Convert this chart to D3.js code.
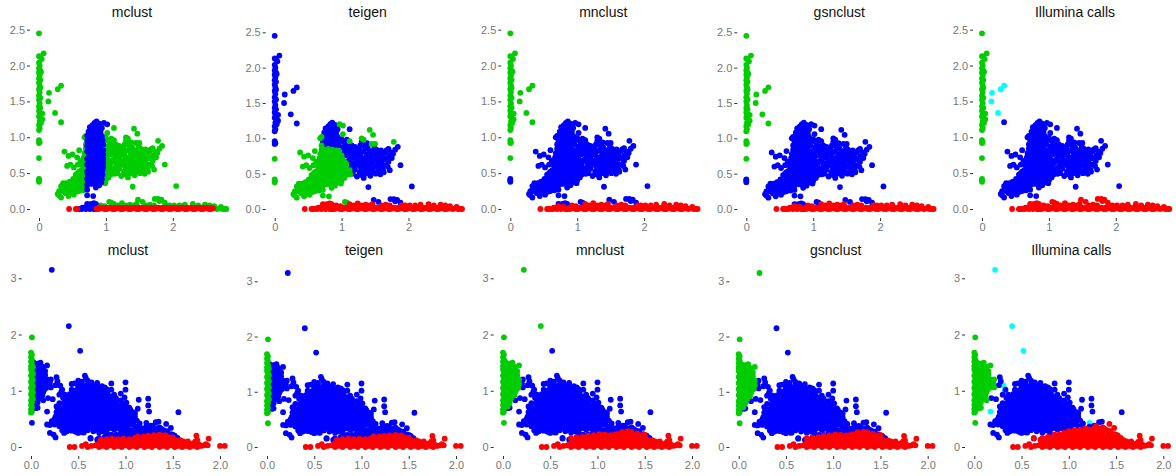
<!DOCTYPE html>
<html lang="en">
<head>
<meta charset="UTF-8">
<title>Clustering comparison</title>
<style>
    html, body { margin: 0; padding: 0; background: #fff; }
    svg { display: block; }
    text { font-family: "Liberation Sans", Arial, sans-serif; }
</style>
</head>
<body>
<svg id="chart" width="1176" height="476"></svg>
<script src="https://d3js.org/d3.v7.min.js"></script>
<script>
const methods = ["mclust", "teigen", "mnclust", "gsnclust", "Illumina calls"];
const topXTicks = [0, 1, 2];
const topYTicks = [0, 0.5, 1, 1.5, 2, 2.5];
const bottomXTicks = [0, 0.5, 1, 1.5, 2];
const bottomYTicks = [0, 1, 2, 3];

// ---- top row points, split by how the methods disagree on them
const topStripMain = [[0,2.45],[0,2.13],[0.02,2.12],[0.07,2.17],[0.04,2.09],[0,2.04],[0.01,2],[0,1.96],[0.02,1.93],[0.03,1.91],[0,1.9],[0.01,1.86],[0,1.82],[0.02,1.8],[0,1.76],[0.01,1.72],[0.02,1.69],[0,1.67],[0.01,1.63],[0,1.58],[0.02,1.55],[0,1.52],[0.01,1.47],[0,1.43],[0.02,1.41],[0,1.37],[0.01,1.33],[0.05,1.33],[0,1.29],[0.03,1.26],[0.05,1.25],[0.01,1.22],[0.03,1.2],[0,1.17],[0.01,1.13],[0,1.1],[0,0.96],[0.01,0.93],[0,0.92]];
const topStripMid = [[0,0.71]];
const topStripLow = [[0,0.42],[0,0.4],[0,0.38]];
const topSide = [[0.15,1.62],[0.14,1.5],[0.24,1.34],[0.28,1.67],[0.33,1.72]];
const topSideLast = [[0.33,1.21]];
const topLimb = [[0.28,0.21],[0.3,0.19],[0.33,0.16],[0.33,0.32],[0.38,0.33],[0.36,0.26],[0.4,0.22],[0.42,0.27],[0.41,0.36],[0.44,0.18],[0.46,0.23],[0.47,0.3],[0.46,0.38],[0.49,0.34],[0.5,0.27],[0.52,0.2],[0.53,0.31],[0.51,0.42],[0.55,0.38],[0.56,0.24],[0.58,0.3],[0.57,0.44],[0.6,0.36],[0.6,0.47],[0.62,0.27],[0.63,0.41],[0.65,0.5],[0.64,0.33],[0.66,0.44],[0.67,0.37],[0.69,0.3],[0.68,0.55],[0.7,0.47],[0.63,0.54],[0.7,0.6],[0.66,0.6],[0.69,0.66],[0.67,0.72],[0.7,0.76],[0.7,0.84],[0.7,0.9],[0.7,1.02],[0.68,1.0],[0.38,0.8],[0.44,0.74],[0.5,0.76],[0.42,0.6],[0.47,0.62],[0.52,0.58],[0.6,0.82],[0.57,0.72],[0.62,0.67],[0.58,0.62],
[0.35,0.29],[0.38,0.24],[0.43,0.32],[0.44,0.24],[0.48,0.22],[0.5,0.32],[0.53,0.26],[0.54,0.36],[0.58,0.4],[0.6,0.33],[0.6,0.25],[0.63,0.36],[0.65,0.28],[0.66,0.34],[0.68,0.4],[0.7,0.36],[0.7,0.42],[0.65,0.54],[0.6,0.52],[0.62,0.46],[0.55,0.48],[0.58,0.5],[0.66,0.66],[0.68,0.78],[0.68,0.6],[0.64,0.62],[0.66,0.26],[0.4,0.3],[0.36,0.36],[0.32,0.25],[0.3,0.25]];
const topCoreLow = [[0.74,0.84],[0.8,0.85],[0.86,0.84],[0.92,0.83],[0.96,0.82],[0.75,0.78],[0.81,0.77],[0.87,0.79],[0.92,0.77],[0.96,0.76],[0.74,0.72],[0.8,0.71],[0.86,0.72],[0.91,0.71],[0.96,0.7],[0.75,0.66],[0.8,0.65],[0.86,0.66],[0.92,0.64],[0.96,0.65],[0.74,0.6],[0.8,0.6],[0.85,0.59],[0.9,0.6],[0.96,0.59],[0.74,0.54],[0.79,0.53],[0.85,0.54],[0.91,0.53],[0.95,0.54],[0.73,0.48],[0.78,0.47],[0.84,0.48],[0.9,0.47],[0.95,0.48],[0.72,0.42],[0.77,0.41],[0.82,0.43],[0.9,0.41],[0.94,0.42],[0.73,0.36],[0.78,0.35],[0.85,0.3],[0.72,0.27],[0.72,0.19],[0.81,0.18],
[0.77,0.81],[0.83,0.81],[0.89,0.81],[0.94,0.8],[0.77,0.75],[0.83,0.74],[0.89,0.74],[0.94,0.74],[0.77,0.69],[0.83,0.68],[0.89,0.69],[0.94,0.67],[0.77,0.63],[0.83,0.63],[0.88,0.62],[0.93,0.62],[0.77,0.57],[0.83,0.56],[0.88,0.56],[0.93,0.56],[0.76,0.51],[0.82,0.5],[0.87,0.51],[0.93,0.5],[0.75,0.45],[0.8,0.44],[0.87,0.44],[0.92,0.44],[0.76,0.39],[0.82,0.38],[0.88,0.37],[0.93,0.37],[0.84,0.34],[0.9,0.33],[0.72,0.52],[0.72,0.62],[0.72,0.7],[0.72,0.8],[0.72,0.33]];
const topCoreHigh = [[0.74,0.9],[0.8,0.91],[0.86,0.9],[0.92,0.89],[0.96,0.9],[0.73,0.96],[0.79,0.97],[0.85,0.96],[0.91,0.95],[0.95,0.96],[0.72,1.02],[0.78,1.03],[0.84,1.02],[0.9,1.01],[0.94,1.02],[0.74,1.08],[0.8,1.08],[0.86,1.07],[0.92,1.08],[0.76,1.14],[0.82,1.13],[0.88,1.14],[0.83,1.2],[0.86,1.22],[0.9,1.19],
[0.77,0.93],[0.83,0.93],[0.89,0.93],[0.94,0.93],[0.76,0.99],[0.82,0.99],[0.88,0.99],[0.93,0.99],[0.75,1.05],[0.81,1.05],[0.87,1.05],[0.91,1.05],[0.79,1.11],[0.85,1.1],[0.9,1.11],[0.8,1.17],[0.85,1.17],[0.94,1.13],[0.72,0.88],[0.72,0.95]];
const topTips = [[0.97,1.2],[1.02,1.18]];
const topRightLow = [[1,0.76],[1.02,0.7],[1,0.64],[1.07,0.64],[1.04,0.58],[1,0.52],[1.08,0.55],[1.13,0.49],[1.07,0.48],[1.01,0.46],[1,0.4],[0.99,0.36],[0.98,0.73],[0.99,0.67],[1.04,0.67],[0.99,0.58],[1.04,0.52],[1.1,0.52],[0.98,0.49],[1.04,0.44],[1.12,0.55],[1.06,0.6]];
const topRight = [[1,0.99],[1.05,0.93],[1.02,0.87],[1.08,0.86],[1.04,0.81],[1.1,0.78],[1.15,0.84],[1.14,0.72],[1.1,0.68],[1.17,0.65],[1.14,0.58],[1.2,0.56],[1.17,0.5],[1.23,0.46],[1.21,0.62],[1.2,0.72],[1.2,0.8],[1.26,0.85],[1.27,0.76],[1.26,0.68],[1.28,0.6],[1.27,0.52],[1.33,0.44],[1.32,0.55],[1.33,0.65],[1.34,0.72],[1.33,0.82],[1.33,0.9],[1.39,0.86],[1.4,0.78],[1.39,0.7],[1.4,0.62],[1.38,0.54],[1.43,0.47],[1.45,0.56],[1.46,0.65],[1.46,0.73],[1.46,0.82],[1.52,0.84],[1.52,0.76],[1.53,0.68],[1.52,0.6],[1.51,0.5],[1.58,0.49],[1.58,0.58],[1.59,0.66],[1.59,0.74],[1.59,0.83],[1.65,0.8],[1.64,0.72],[1.66,0.62],[1.63,0.52],[1.7,0.85],[1.71,0.75],[1.7,0.67],[1.75,0.72],[1.72,0.55],[1.8,0.84],[1.84,0.88],[1.77,0.78],[1.88,0.62],[1.4,0.31],[2.05,0.32],[1.12,1.13],
[1.02,0.96],[1.07,0.89],[1.06,0.76],[1.12,0.81],[1.17,0.77],[1.12,0.7],[1.15,0.64],[1.19,0.6],[1.23,0.66],[1.23,0.76],[1.23,0.83],[1.29,0.8],[1.3,0.72],[1.3,0.64],[1.3,0.56],[1.3,0.48],[1.36,0.5],[1.36,0.6],[1.37,0.68],[1.37,0.76],[1.36,0.86],[1.42,0.82],[1.43,0.74],[1.43,0.66],[1.42,0.58],[1.42,0.52],[1.49,0.52],[1.49,0.6],[1.49,0.69],[1.49,0.78],[1.49,0.87],[1.55,0.8],[1.56,0.72],[1.55,0.63],[1.55,0.54],[1.62,0.55],[1.62,0.62],[1.62,0.7],[1.62,0.78],[1.67,0.83],[1.68,0.7],[1.69,0.6],[1.74,0.8],[1.28,0.9],[1.3,0.95],[1.38,0.93],[1.15,0.9],[1.2,0.88],[1.1,0.88],[1.08,0.98],[1.13,0.55]];
const topRightGreen = [[1.02,1.06],[1.12,0.96],[1.3,1],[1.33,0.98],[1.42,1.12],[1.47,1.05],[1.45,0.92],[1.5,0.92],[1.78,0.95]];
const topBaseLeft = [[0.45,0],[0.55,0],[0.57,0]];
const topBaseFlat = [[0.86,0],[0.92,0.01],[0.98,0],[1.04,0.01],[1.1,0],[1.16,0.01],[1.22,0],[1.28,0.01],[1.34,0],[1.4,0.01],[1.46,0],[1.52,0.01],[1.58,0],[1.64,0.01],[1.7,0],[1.76,0.01],[1.82,0],[1.88,0.01],[1.94,0],[2,0.01],[2.06,0],[2.12,0.01],[2.18,0],[2.24,0.01],[2.3,0],[2.36,0.01],[2.42,0],[2.48,0.01],[2.54,0],[2.6,0.01],[0.89,0.02],[1.01,0.02],[1.13,0.02],[1.25,0.02],[1.37,0.02],[1.49,0.02],[1.61,0.02],[1.73,0.02],[1.85,0.02],[1.97,0.02],[2.09,0.02],[2.21,0.02],[2.33,0.02],[2.45,0.02],[2.57,0.02],
[0.95,0.02],[1.07,0.02],[1.19,0.02],[1.31,0.02],[1.43,0.02],[1.55,0.02],[1.67,0.02],[1.79,0.02],[1.91,0.02],[2.03,0.02],[2.15,0.02],[2.27,0.02],[2.39,0.02],[2.51,0.02],[0.89,0],[1.01,0],[1.13,0],[1.25,0],[1.37,0],[1.49,0],[1.61,0],[1.73,0],[1.85,0],[1.97,0],[2.09,0],[2.21,0],[2.33,0],[2.45,0],[2.57,0]];
const topBaseRight = [[2.62,0.01],[2.66,0],[2.7,0.01],[2.74,0],[2.78,0],[2.8,0]];
const topBaseBlue = [[0.6,0],[0.64,0],[0.65,0.02],[0.68,0.02],[0.7,0],[0.72,0.04],[0.76,0],[0.8,0.03],[0.84,0],[0.74,0.02],[0.78,0.02],[0.82,0]];
const topUpBlue = [[0.72,0.07],[0.74,0.06],[0.78,0.07],[0.82,0.08],[0.85,0.07]];
const topBand = [[0.92,0.05],[0.98,0.04],[1.12,0.07],[1.18,0.05],[1.24,0.08],[1.3,0.05],[1.36,0.06],[1.42,0.05],[1.46,0.07],[1.6,0.05],[1.66,0.06],[1.72,0.05],[1.9,0.05],[1.95,0.05],[2.02,0.05],[2.1,0.05],[2.18,0.06],[2.3,0.07],[2.38,0.05],[2.48,0.06],[2.55,0.05],[2.62,0.04],[2.72,0.03]];
const topBandUp = [[1.05,0.1],[1.08,0.09]];
const topBandBlue = [[1.48,0.13],[1.55,0.1],[1.73,0.14],[1.78,0.14],[1.8,0.11],[1.83,0.13],[1.88,0.09]];

// ---- bottom row points
const botStrip = [[0.01,1.95],[0,1.68],[0.01,1.64],[0,1.6],[0.01,1.56],[0,1.52],[0.01,1.48],[0,1.44],[0.02,1.42],[0,1.38],[0.01,1.34],[0.02,1.3],[0,1.27],[0.01,1.23],[0.02,1.19],[0,1.16],[0.01,1.12],[0.02,1.08],[0,1.05],[0.01,1.01],[0.02,0.97],[0,0.94],[0.01,0.9],[0.02,0.86],[0,0.83],[0.01,0.79],[0,0.75],[0.01,0.71],[0,0.67],[0.01,0.63],[0,0.61]];
const botStripLow = [[0.01,0.43]];
const botWedge = [[0.05,1.45],[0.1,1.5],[0.08,1.42],[0.13,1.37],[0.17,1.45],[0.05,1.36],[0.09,1.33],[0.15,1.28],[0.05,1.27],[0.1,1.24],[0.17,1.2],[0.13,1.18],[0.05,1.18],[0.09,1.14],[0.17,1.12],[0.05,1.09],[0.12,1.06],[0.16,1.05],[0.08,1.03],[0.05,1],[0.13,0.98],[0.1,0.95],[0.06,0.92],[0.09,0.87],[0.05,0.84],[0.07,0.79],[0.04,0.74],
[0.03,1.5],[0.07,1.48],[0.12,1.43],[0.15,1.35],[0.11,1.3],[0.07,1.28],[0.13,1.24],[0.03,1.22],[0.08,1.19],[0.15,1.15],[0.11,1.11],[0.04,1.13],[0.07,1.07],[0.14,1.02],[0.1,1],[0.03,1.04],[0.07,0.96],[0.04,0.9],[0.12,0.92],[0.07,0.83],[0.03,0.8],[0.05,0.72]];
const botWedgeBlue = [[0.07,0.7],[0.05,0.69],[0.13,0.83],[0.21,1.2],[0.2,1.13],[0.21,1.06]];
const botOutlierTop = [[0.22,3.15]];
const botOutlierMid = [[0.4,2.15]];
const botOutliers = [[0.52,1.71],[0.17,0.63],[1.22,0.43],[0.76,0.28],[0.31,1.09],[0.32,0.98]];
const botStreak = [[0.27,1.24],[0.28,1.17],[0.26,1.1],[0.33,1.02],[0.36,0.93],[0.34,0.87],[0.3,0.93],[0.37,0.8],[0.23,0.85],[0.18,0.87],[0.27,0.72],[0.3,0.78]];
const botCloud = [[0.33,0.3],[0.38,0.28],[0.42,0.3],[0.47,0.27],[0.52,0.3],[0.55,0.26],[0.6,0.3],[0.66,0.28],[0.7,0.31],[0.76,0.3],[0.82,0.33],[0.88,0.31],[0.95,0.33],[1.02,0.32],
[0.2,0.39],[0.25,0.4],[0.3,0.37],[0.35,0.39],[0.4,0.38],[0.45,0.4],[0.5,0.37],[0.55,0.39],[0.6,0.38],[0.65,0.4],[0.7,0.37],[0.75,0.39],[0.8,0.38],[0.85,0.4],[0.9,0.38],[0.95,0.39],[1,0.38],[1.05,0.4],[1.1,0.37],
[0.22,0.46],[0.27,0.47],[0.32,0.45],[0.37,0.47],[0.42,0.46],[0.47,0.45],[0.52,0.47],[0.57,0.46],[0.62,0.45],[0.67,0.47],[0.72,0.46],[0.77,0.47],[0.82,0.45],[0.87,0.47],[0.92,0.46],[0.97,0.47],[1.02,0.46],[1.07,0.45],[1.12,0.47],
[0.26,0.54],[0.31,0.55],[0.36,0.53],[0.41,0.55],[0.46,0.54],[0.51,0.53],[0.56,0.55],[0.61,0.54],[0.66,0.53],[0.71,0.55],[0.76,0.54],[0.81,0.55],[0.86,0.53],[0.91,0.55],[0.96,0.54],[1.01,0.53],[1.06,0.55],[1.1,0.54],
[0.27,0.62],[0.32,0.63],[0.37,0.61],[0.42,0.63],[0.47,0.62],[0.52,0.61],[0.57,0.63],[0.62,0.62],[0.67,0.61],[0.72,0.63],[0.77,0.62],[0.82,0.63],[0.87,0.61],[0.92,0.63],[0.97,0.62],[1.03,0.61],[1.08,0.62],
[0.28,0.7],[0.33,0.69],[0.38,0.71],[0.43,0.7],[0.48,0.69],[0.53,0.71],[0.58,0.7],[0.63,0.69],[0.68,0.71],[0.73,0.7],[0.78,0.69],[0.83,0.71],[0.88,0.7],[0.93,0.69],[0.98,0.71],[1.04,0.7],
[0.35,0.78],[0.4,0.77],[0.45,0.79],[0.5,0.78],[0.55,0.77],[0.6,0.79],[0.65,0.78],[0.7,0.77],[0.75,0.79],[0.8,0.78],[0.85,0.77],[0.9,0.79],[0.97,0.78],[1.01,0.79],
[0.38,0.86],[0.43,0.85],[0.48,0.87],[0.53,0.86],[0.58,0.85],[0.63,0.87],[0.68,0.86],[0.73,0.85],[0.78,0.87],[0.83,0.86],[0.9,0.87],[0.99,0.88],
[0.41,0.94],[0.46,0.93],[0.51,0.95],[0.56,0.94],[0.61,0.93],[0.66,0.95],[0.71,0.94],[0.76,0.93],[0.81,0.95],[0.88,0.93],
[0.43,1.02],[0.48,1.01],[0.53,1.03],[0.58,1.02],[0.63,1.01],[0.68,1.03],[0.74,1.02],[0.8,1.03],[0.85,1.02],
[0.43,1.12],[0.46,1.13],[0.5,1.1],[0.55,1.09],[0.6,1.11],[0.65,1.1],[0.7,1.14],[0.75,1.08],
[0.5,1.18],[0.54,1.16],[0.6,1.18],[0.64,1.15],[0.57,1.27],[0.58,1.23],
[0.85,1.13],[0.78,1.06],[1,1.15],[1,1.02],[0.95,0.95],[1.24,0.86],[1.24,0.74],[1.25,0.63],[1.14,0.84],[1.13,0.68],[1.1,0.6],[1.56,0.62],[0.17,0.4],[0.2,0.25],[0.26,0.17],[0.24,0.22],[0.35,0.25],[0.43,0.29],[0.5,0.25],[0.56,0.26],[0.63,0.15],[0.72,0.26],[0.8,0.26],
[1.15,0.42],[1.13,0.36],[1.18,0.3],[1.22,0.36],[1.27,0.38],[1.32,0.44],[1.35,0.45],[1.3,0.33],[1.36,0.32],[1.42,0.28]];
const botCloudFill = [[0.36,0.34],[0.41,0.33],[0.46,0.34],[0.51,0.33],[0.56,0.34],[0.61,0.33],[0.66,0.34],[0.71,0.33],[0.76,0.34],[0.81,0.35],[0.86,0.34],[0.91,0.33],[0.97,0.35],
[0.23,0.42],[0.28,0.43],[0.33,0.42],[0.38,0.43],[0.43,0.42],[0.48,0.43],[0.53,0.42],[0.58,0.43],[0.63,0.42],[0.68,0.43],[0.73,0.42],[0.78,0.43],[0.83,0.42],[0.88,0.43],[0.93,0.42],[0.98,0.43],[1.03,0.42],[1.08,0.43],
[0.25,0.5],[0.3,0.51],[0.35,0.5],[0.4,0.51],[0.45,0.5],[0.5,0.51],[0.55,0.5],[0.6,0.51],[0.65,0.5],[0.7,0.51],[0.75,0.5],[0.8,0.51],[0.85,0.5],[0.9,0.51],[0.95,0.5],[1,0.51],[1.05,0.5],[1.09,0.51],
[0.29,0.58],[0.34,0.59],[0.39,0.58],[0.44,0.59],[0.49,0.58],[0.54,0.59],[0.59,0.58],[0.64,0.59],[0.69,0.58],[0.74,0.59],[0.79,0.58],[0.84,0.59],[0.89,0.58],[0.94,0.59],[0.99,0.58],[1.04,0.59],[1.07,0.58],
[0.3,0.66],[0.35,0.67],[0.4,0.66],[0.45,0.67],[0.5,0.66],[0.55,0.67],[0.6,0.66],[0.65,0.67],[0.7,0.66],[0.75,0.67],[0.8,0.66],[0.85,0.67],[0.9,0.66],[0.95,0.67],[1,0.66],[1.05,0.67],
[0.36,0.74],[0.41,0.75],[0.46,0.74],[0.51,0.75],[0.56,0.74],[0.61,0.75],[0.66,0.74],[0.71,0.75],[0.76,0.74],[0.81,0.75],[0.86,0.74],[0.91,0.75],[0.96,0.74],[1,0.75],
[0.4,0.82],[0.45,0.83],[0.5,0.82],[0.55,0.83],[0.6,0.82],[0.65,0.83],[0.7,0.82],[0.75,0.83],[0.8,0.82],[0.85,0.83],[0.9,0.82],[0.95,0.83],
[0.44,0.9],[0.49,0.91],[0.54,0.9],[0.59,0.91],[0.64,0.9],[0.69,0.91],[0.74,0.9],[0.79,0.91],[0.85,0.9],
[0.46,0.98],[0.51,0.99],[0.56,0.98],[0.61,0.99],[0.66,0.98],[0.71,0.99],[0.78,0.98],
[0.5,1.06],[0.55,1.05],[0.6,1.06],[0.65,1.05],[0.7,1.07]];
const botBase = [[0.41,0],[0.46,0],[0.54,0.02],[0.58,0.05],[0.6,0],[0.64,0.02],[0.68,0.03],[0.72,0],[0.76,0.02],[0.8,0],[0.84,0.03],[0.88,0],[0.92,0.02],[0.96,0],[1,0.03],[1.04,0],[1.08,0.02],[1.12,0],[1.16,0.03],[1.2,0],[1.24,0.02],[1.28,0],[1.32,0.03],[1.36,0],[1.4,0.02],[1.44,0],[1.48,0.03],[1.52,0],[1.56,0.02],[1.6,0],[1.64,0.02],[1.68,0],[1.72,0.02],[1.76,0],[1.8,0.02],[1.85,0.05],[1.87,0.03],[2,0.02],[2.05,0.02],
[0.72,0.07],[0.77,0.08],[0.82,0.06],[0.87,0.08],[0.92,0.07],[0.97,0.09],[1.02,0.07],[1.07,0.09],[1.12,0.08],[1.17,0.07],[1.22,0.09],[1.27,0.08],[1.32,0.07],[1.37,0.09],[1.42,0.08],[1.47,0.07],[1.52,0.08],[1.57,0.07],[1.62,0.08],[1.67,0.06],[1.72,0.07],
[0.74,0.13],[0.8,0.14],[0.86,0.15],[0.92,0.14],[0.98,0.15],[1.04,0.14],[1.1,0.16],[1.16,0.15],[1.22,0.16],[1.28,0.15],[1.34,0.16],[1.4,0.15],[1.46,0.14],[1.52,0.13],[1.58,0.12],[1.76,0.12],
[1.24,0.2],[1.3,0.21],[1.36,0.22],[1.42,0.21],[1.5,0.17],[1.75,0.2],[1.88,0.15],
[0.7,0.04],[0.74,0.04],[0.78,0.05],[0.82,0.03],[0.86,0.05],[0.9,0.04],[0.94,0.05],[0.98,0.04],[1.02,0.05],[1.06,0.04],[1.1,0.05],[1.14,0.04],[1.18,0.05],[1.22,0.04],[1.26,0.05],[1.3,0.04],[1.34,0.05],[1.38,0.04],[1.42,0.05],[1.46,0.04],[1.5,0.05],[1.54,0.04],[1.58,0.05],[1.62,0.04],[1.66,0.03],[1.7,0.04],[1.78,0.04],[1.83,0.03],
[0.77,0.11],[0.83,0.11],[0.89,0.11],[0.95,0.12],[1.01,0.11],[1.07,0.12],[1.13,0.11],[1.19,0.12],[1.25,0.11],[1.31,0.12],[1.37,0.11],[1.43,0.12],[1.49,0.11],[1.55,0.1],[1.61,0.1],[1.66,0.1],[1.74,0.1],
[1.13,0.19],[1.19,0.19],[1.27,0.18],[1.33,0.19],[1.39,0.18],[1.45,0.18]];
const botUpperA = [[0.72,0.16],[0.78,0.17],[0.84,0.18],[0.9,0.2],[0.96,0.21],[1.02,0.23],[1.08,0.22],[1.14,0.21],[1.2,0.23],[1.26,0.27],[1.32,0.28],[1.36,0.27],[1.42,0.24],[1.5,0.22],[0.95,0.16],[1.05,0.18],[0.87,0.17],[0.99,0.18],[1.05,0.21],[1.11,0.19],[1.17,0.21],[1.23,0.23],[1.29,0.24],[1.35,0.24],[1.46,0.21]];
const botUpperB = [[0.63,0.16],[0.78,0.18],[0.85,0.22],[0.95,0.25],[1,0.28],[1.06,0.3],[1.12,0.31],[1.18,0.33],[1.25,0.3],[1.29,0.37],[1.36,0.35],[1.43,0.41],[1.48,0.34],[1.48,0.23],[1.1,0.26],[1.2,0.28],[1.3,0.31],[1.4,0.3],[0.9,0.22],[1,0.22],[1.04,0.26],[1.15,0.28],[1.22,0.31],[1.27,0.33],[1.33,0.33],[1.38,0.32],[1.34,0.3],[1.44,0.28],[0.82,0.17],[0.7,0.13],[1.52,0.2],[1.55,0.16]];

// ---- layout
const topX0 = [39, 274.7, 510.3, 746.3, 982];
const topYMax = [29.7, 32.3, 29.7, 32.3, 29.7];
const botX0 = [31, 267, 503, 738.7, 974.3];
const botYMax = [278.3, 281.3, 278.3, 281.3, 278.3];
const topUnit = 66.9, botUnit = 94.5, pointR = 2.9;

const colours = {g: "#00CD00", b: "#0000FF", r: "#FF0000", c: "#00FFFF"};

// one letter per method, same order as methods[]
const topGroups = [
    [topStripMain, "gbggg"], [topStripMid, "ggggg"], [topStripLow, "ggbbg"],
    [topSide, "gbggc"], [topSideLast, "gbggb"],
    [topLimb, "ggbbb"], [topCoreLow, "bgbbb"], [topCoreHigh, "bbbbb"], [topTips, "bgbbb"],
    [topRightLow, "ggbbb"], [topRight, "gbbbb"], [topRightGreen, "ggbbb"],
    [topBaseLeft, "rrrrr"], [topBaseFlat, "rrrrr"], [topBaseRight, "grrrr"],
    [topBaseBlue, "brrrr"], [topUpBlue, "brbbr"], [topBand, "grrrr"],
    [topBandUp, "ggbbr"], [topBandBlue, "gbbbr"]
];
const botGroups = [
    [botStrip, "ggggg"], [botStripLow, "bgggg"], [botWedge, "bbggg"], [botWedgeBlue, "bbbbg"],
    [botOutlierTop, "bbggc"], [botOutlierMid, "bbgbc"], [botOutliers, "bbbbc"],
    [botStreak, "bbbbb"], [botCloud, "bbbbb"], [botCloudFill, "bbbbb"], [botBase, "rrrrr"],
    [botUpperA, "bbrrr"], [botUpperB, "bbbbr"]
];
const topLayers = ["gbr", "bgr", "gbr", "gbr", "cgbr"];
const botLayers = ["brg", "brg", "brg", "brg", "cbrg"];

const svg = d3.select("#chart");

function drawPanel(m, opts) {
    let x = d3.scaleLinear().domain([0, 2]).range([opts.x0, opts.x0 + 2 * opts.unit]);
    let y = d3.scaleLinear().domain([0, opts.yTopVal]).range([opts.y0, opts.yMax]);

    let xAxis = d3.axisBottom(x).tickValues(opts.xTicks).tickSize(3).tickPadding(2).tickFormat(opts.xFmt);
    let yAxis = d3.axisLeft(y).tickValues(opts.yTicks).tickSize(3).tickPadding(2).tickFormat(opts.yFmt);

    let g = svg.append("g");
    g.append("g").attr("transform", "translate(0," + opts.axisY + ")").call(xAxis);
    g.append("g").attr("transform", "translate(" + (opts.x0 - opts.axisGap) + ",0)").call(yAxis);
    g.selectAll(".domain").remove();
    g.selectAll(".tick line").attr("stroke", "#333");
    g.selectAll(".tick text").attr("fill", "#777").style("font-size", "11px");

    // later letters sit on top
    opts.layers[m].split("").forEach(key => {
        let pts = [];
        opts.groups.forEach(([arr, codes]) => {
            if (codes[m] === key) pts = pts.concat(arr);
        });
        g.append("g").selectAll("circle").data(pts).enter().append("circle")
            .attr("cx", d => x(d[0]))
            .attr("cy", d => y(d[1]))
            .attr("r", pointR)
            .attr("fill", colours[key]);
    });

    g.append("text")
        .attr("x", opts.x0 + opts.titleDx)
        .attr("y", opts.titleY)
        .attr("text-anchor", "middle")
        .attr("fill", "#111")
        .style("font-size", "14px")
        .text(methods[m]);
}

methods.forEach((_, m) => {
    drawPanel(m, {
        x0: topX0[m], unit: topUnit, y0: 209, yMax: topYMax[m], yTopVal: 2.5,
        xTicks: topXTicks, yTicks: topYTicks, xFmt: d3.format("d"), yFmt: d3.format(".1f"),
        axisY: 218, axisGap: 9, titleDx: 93, titleY: 17,
        groups: topGroups, layers: topLayers
    });
    drawPanel(m, {
        x0: botX0[m], unit: botUnit, y0: 447, yMax: botYMax[m], yTopVal: 3,
        xTicks: bottomXTicks, yTicks: bottomYTicks, xFmt: d3.format(".1f"), yFmt: d3.format("d"),
        axisY: 456, axisGap: 9.3, titleDx: 97, titleY: 255,
        groups: botGroups, layers: botLayers
    });
});
</script>
</body>
</html>
